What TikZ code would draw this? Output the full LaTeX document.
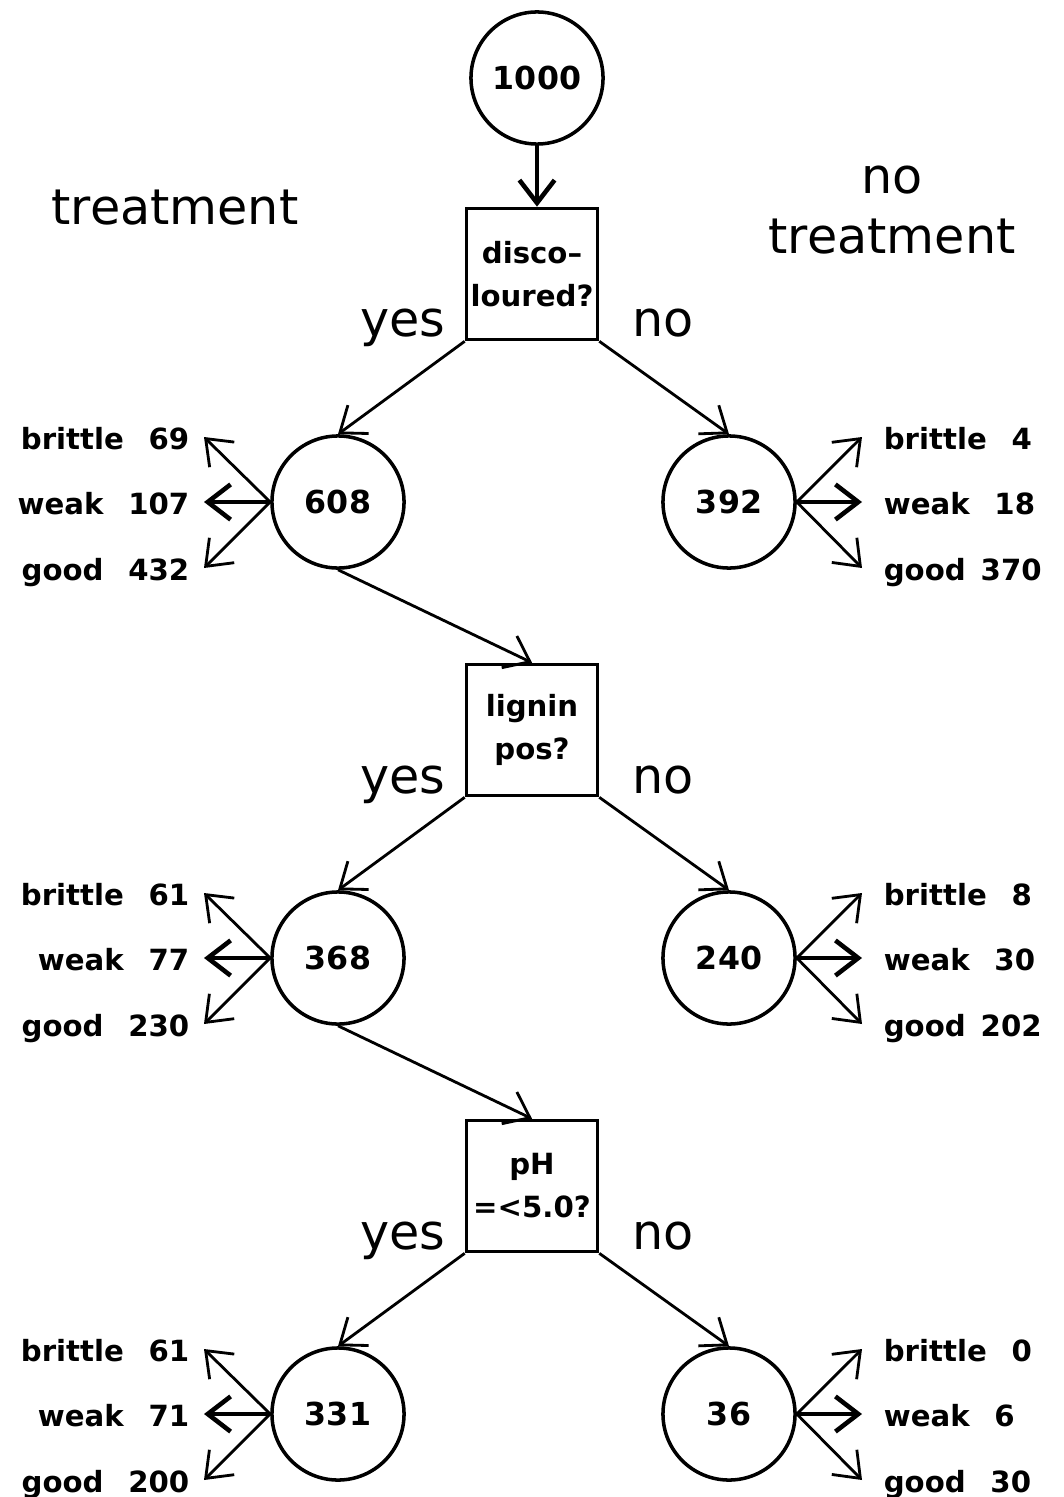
\documentclass[tikz,border=0pt]{standalone}
\usepackage{fontspec}
\setmainfont{DejaVu Sans}
\usetikzlibrary{positioning, arrows.meta}

\begin{document}
\begin{tikzpicture}[
    x=0.01cm, y=-0.01cm,
    count/.style={circle, draw, line width=1pt, minimum size=1.32cm, inner sep=0pt, font=\bfseries\fontsize{9}{9}\selectfont},
    test/.style={rectangle, draw, line width=1pt, minimum size=1.31cm, inner sep=0pt, align=center, font=\bfseries\fontsize{8.3}{12.2}\selectfont},
    big/.style={anchor=base, font=\fontsize{14}{17}\selectfont},
    outl/.style={anchor=east, inner xsep=4pt, inner ysep=0pt, text height=7pt, text depth=0pt, font=\bfseries\fontsize{8.3}{10}\selectfont},
    outr/.style={outl, anchor=west, inner xsep=6pt},
    arrow/.style={-{Straight Barb[length=6.5pt, width=10pt]}, line width=0.8pt},
    mainarrow/.style={arrow, line width=1.3pt}
  ]
  \useasboundingbox (0,0) rectangle (1064,1497);

  % Ueberschriften
  \node[big] (treat) at (175,225) {treatment};
  \node[big] (notreat1) at (892,193) {no};
  \node[big] (notreat2) at (892,253) {treatment};

  % Wurzel und erste Frage
  \node[count] (root) at (537,78) {1000};
  \node[test] (disc) at (532,274) {disco--\\loured?};
  \draw[mainarrow] (root.south) -- (root.south |- disc.north);
  \node[big] (yes1) at (403,337) {yes};
  \node[big] (no1) at (663,337) {no};

  \node[count] (c608) at (338,502) {608};
  \node[count] (c392) at (729,502) {392};
  \draw[arrow] (disc.south west) -- (c608.north);
  \draw[arrow] (disc.south east) -- (c392.north);

  \node[outl] (b608) at (204,437) {brittle~\enspace69};
  \node[outl] (w608) at (204,502) {weak~\enspace107};
  \node[outl] (g608) at (204,568) {good~\enspace432};
  \draw[arrow] (c608.west) -- (b608.east);
  \draw[mainarrow] (c608.west) -- (w608.east);
  \draw[arrow] (c608.west) -- (g608.east);

  \node[outr] (b392) at (862,437) {brittle~\enspace4};
  \node[outr] (w392) at (862,502) {weak~\enspace18};
  \node[outr] (g392) at (862,568) {good~\,370};
  \draw[arrow] (c392.east) -- (b392.west);
  \draw[mainarrow] (c392.east) -- (w392.west);
  \draw[arrow] (c392.east) -- (g392.west);

  % zweite Frage
  \node[test] (lig) at (532,730) {lignin\\pos?};
  \draw[arrow] (c608.south) -- (lig.north);
  \node[big] (yes2) at (403,793) {yes};
  \node[big] (no2) at (663,793) {no};

  \node[count] (c368) at (338,958) {368};
  \node[count] (c240) at (729,958) {240};
  \draw[arrow] (lig.south west) -- (c368.north);
  \draw[arrow] (lig.south east) -- (c240.north);

  \node[outl] (b368) at (204,893) {brittle~\enspace61};
  \node[outl] (w368) at (204,958) {weak~\enspace77};
  \node[outl] (g368) at (204,1024) {good~\enspace230};
  \draw[arrow] (c368.west) -- (b368.east);
  \draw[mainarrow] (c368.west) -- (w368.east);
  \draw[arrow] (c368.west) -- (g368.east);

  \node[outr] (b240) at (862,893) {brittle~\enspace8};
  \node[outr] (w240) at (862,958) {weak~\enspace30};
  \node[outr] (g240) at (862,1024) {good~\,202};
  \draw[arrow] (c240.east) -- (b240.west);
  \draw[mainarrow] (c240.east) -- (w240.west);
  \draw[arrow] (c240.east) -- (g240.west);

  % dritte Frage
  \node[test] (ph) at (532,1186) {pH\\=<5.0?};
  \draw[arrow] (c368.south) -- (ph.north);
  \node[big] (yes3) at (403,1249) {yes};
  \node[big] (no3) at (663,1249) {no};

  \node[count] (c331) at (338,1414) {331};
  \node[count] (c36) at (729,1414) {36};
  \draw[arrow] (ph.south west) -- (c331.north);
  \draw[arrow] (ph.south east) -- (c36.north);

  \node[outl] (b331) at (204,1349) {brittle~\enspace61};
  \node[outl] (w331) at (204,1414) {weak~\enspace71};
  \node[outl] (g331) at (204,1480) {good~\enspace200};
  \draw[arrow] (c331.west) -- (b331.east);
  \draw[mainarrow] (c331.west) -- (w331.east);
  \draw[arrow] (c331.west) -- (g331.east);

  \node[outr] (b36) at (862,1349) {brittle~\enspace0};
  \node[outr] (w36) at (862,1414) {weak~\enspace6};
  \node[outr] (g36) at (862,1480) {good~\enspace30};
  \draw[arrow] (c36.east) -- (b36.west);
  \draw[mainarrow] (c36.east) -- (w36.west);
  \draw[arrow] (c36.east) -- (g36.west);

\end{tikzpicture}
\end{document}
